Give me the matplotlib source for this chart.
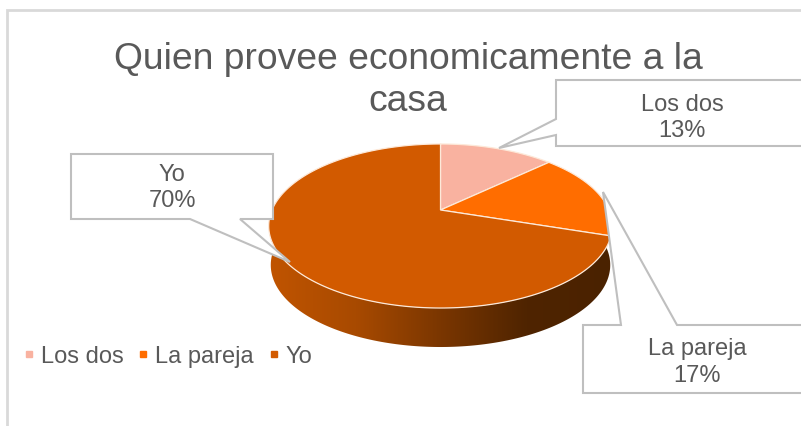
import numpy as np
import matplotlib
matplotlib.use("Agg")
import matplotlib.pyplot as plt
from matplotlib.patches import Polygon, Rectangle
from matplotlib.lines import Line2D

plt.rcParams['font.family'] = ['Liberation Sans', 'DejaVu Sans']

title = "Quien provee economicamente a la\ncasa"
categories = ["Los dos", "La pareja", "Yo"]
values = [13, 17, 70]
colors = ["#F9B2A0", "#FF6D00", "#D25A00"]
TXT = "#595959"
BOX = "#BFBFBF"

CX, CY = 440.5, 211.0
A, B, K = 78.9, 168.5, 0.195
DEPTH = 39.0


def rim(frac):
    t = 2 * np.pi * np.asarray(frac)
    u, v = np.sin(t), -np.cos(t)
    w = 1 - K * v
    return CX + B * u / w, CY + A * v / w


fig = plt.figure(figsize=(8.01, 4.27), dpi=100, facecolor="white")
ax = fig.add_axes([0, 0, 1, 1])
ax.set_xlim(0, 801)
ax.set_ylim(427, 0)
ax.axis("off")

# chart frame (runs off the canvas on the right and bottom)
ax.add_patch(Rectangle((7, 11), 900, 600, fc="white", ec="#D9D9D9", lw=2, zorder=0))

# side wall with horizontal gradient
f = np.linspace(0.2, 0.8, 200)
x0, y0 = rim(f)
xb = CX + (x0 - CX) * 0.988
yb = y0 + DEPTH
side = Polygon(np.r_[np.c_[x0, y0], np.c_[xb, yb][::-1]], fc="none", ec="none", zorder=1)
ax.add_patch(side)
grad = np.linspace(0, 1, 256).reshape(1, -1)
cmap = matplotlib.colors.LinearSegmentedColormap.from_list(
    "wall", ["#C05400", "#A84A00", "#7A3600", "#4F2400", "#4A2200"])
im = ax.imshow(grad, extent=(270, 612, 427, 0), aspect="auto", cmap=cmap, zorder=1)
im.set_clip_path(side)
ax.set_xlim(0, 801)
ax.set_ylim(427, 0)

# top surface
cum = np.cumsum([0] + values) / sum(values)
for i, c in enumerate(colors):
    xs, ys = rim(np.linspace(cum[i], cum[i + 1], 200))
    pts = np.r_[[[CX, CY]], np.c_[xs, ys]]
    ax.add_patch(Polygon(pts, closed=True, fc=c, ec="#FDE9D9", lw=0.9, zorder=2))

# callouts
callouts = [
    [(556, 81), (830, 81), (830, 147), (556, 147), (556, 136), (499, 149), (556, 120)],
    [(583, 326), (621, 326), (603, 193), (677, 326), (830, 326), (830, 394), (583, 394)],
    [(71, 155), (273, 155), (273, 220), (240, 220), (290, 263), (190, 220), (71, 220)],
]
for pts in callouts:
    ax.add_patch(Polygon(pts, closed=True, fc="white", ec=BOX, lw=1.5, zorder=3))

label_pos = [(682, 118), (697, 362.5), (172, 188)]
for (x, y), cat, val in zip(label_pos, categories, values):
    ax.text(x, y, f"{cat}\n{val}%", ha="center", va="center", fontsize=17,
            color=TXT, linespacing=1.25, zorder=4)

ax.text(408, 80.5, title, ha="center", va="center", fontsize=26.8, color=TXT,
        linespacing=1.28, zorder=4)

handles = [Line2D([], [], ls="none", marker="s", ms=4.2, mfc=c, mec=c) for c in colors]
ax.legend(handles, categories, loc="center left", bbox_to_anchor=(24, 357),
          bbox_transform=ax.transData, ncols=3, frameon=False, fontsize=17,
          labelcolor=TXT, handlelength=0.4, handletextpad=0.3, columnspacing=0.65,
          borderpad=0, borderaxespad=0)

fig.savefig("out.png", dpi=100)
